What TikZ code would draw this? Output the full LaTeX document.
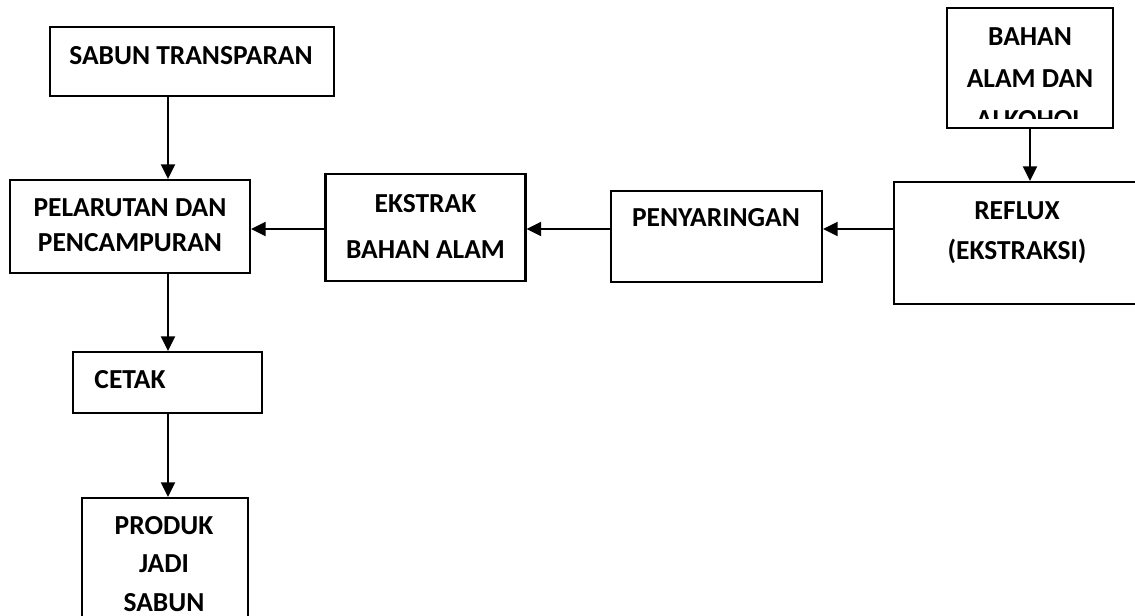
\documentclass[tikz,border=0pt]{standalone}
\usepackage{fontspec}
\setmainfont{Carlito}
\usetikzlibrary{arrows.meta}
\tikzset{
  kotak/.style={draw,line width=1.6pt,inner sep=0pt},
  tulisan/.style={font=\bfseries\fontsize{20.6}{#1}\selectfont,align=center,inner sep=0pt},
  tulisan/.default=30,
  panah/.style={line width=1.8pt,-{Triangle[length=11pt,width=10.5pt]}}
}
\begin{document}
\begin{tikzpicture}[x=0.75pt,y=-0.75pt]
			\clip (0,0) rectangle (1135,616);
			\coordinate (kolom) at (168,0);
			\coordinate (baris) at (0,229);
			
			% Kotak-kotak proses
			\node[kotak,minimum width=284*0.75pt,minimum height=69*0.75pt] (sabun) at (192,61.5) {};
			\node[kotak,minimum width=240*0.75pt,minimum height=93*0.75pt] (larut) at (130,226.5) {};
			\node[kotak,minimum width=200*0.75pt,minimum height=107*0.75pt] (ekstrak) at (425.5,227.5) {};
			\node[kotak,minimum width=211*0.75pt,minimum height=91*0.75pt] (saring) at (716.5,236.5) {};
			\node[kotak,minimum width=266*0.75pt,minimum height=122*0.75pt] (reflux) at (1027,243) {};
			\node[kotak,minimum width=166*0.75pt,minimum height=120*0.75pt] (bahan) at (1030,68) {};
			\node[kotak,minimum width=189*0.75pt,minimum height=61*0.75pt] (cetak) at (167.5,382.5) {};
			\node[kotak,minimum width=166*0.75pt,minimum height=160*0.75pt] (produk) at (165,578) {};
			
			% Tulisan
			\node[tulisan] (tSabun) at (191,56) {SABUN TRANSPARAN};
			\node[tulisan=26.5] (tLarut) at (130,225.5) {PELARUTAN DAN\\PENCAMPURAN};
			\node[tulisan=35] (tEkstrak) at (425.5,226.5) {EKSTRAK\\BAHAN ALAM};
			\node[tulisan] (tSaring) at (716,218) {PENYARINGAN};
			\node[tulisan] (tReflux) at (1017,233) {REFLUX\\(EKSTRAKSI)};
			\begin{scope}
				\clip (947,8) rectangle (1113,118.5);
				\node[tulisan=31] (tBahan) at (1030,78.5) {BAHAN\\ALAM DAN\\ALKOHOL};
			\end{scope}
			\node[tulisan] (tCetak) at (130,380) {CETAK};
			\node[tulisan=29] (tProduk) at (164,564) {PRODUK\\JADI\\SABUN};
			
			% Panah
			\draw[panah] (sabun.south -| kolom) -- (larut.north -| kolom);
			\draw[panah] (bahan.south) -- (reflux.north -| bahan.south);
			\draw[panah] (reflux.west |- baris) -- (saring.east |- baris);
			\draw[panah] (saring.west |- baris) -- (ekstrak.east |- baris);
			\draw[panah] (ekstrak.west |- baris) -- (larut.east |- baris);
			\draw[panah] (larut.south -| kolom) -- (cetak.north -| kolom);
			\draw[panah] (cetak.south -| kolom) -- (produk.north -| kolom);
	\end{tikzpicture}
\end{document}
